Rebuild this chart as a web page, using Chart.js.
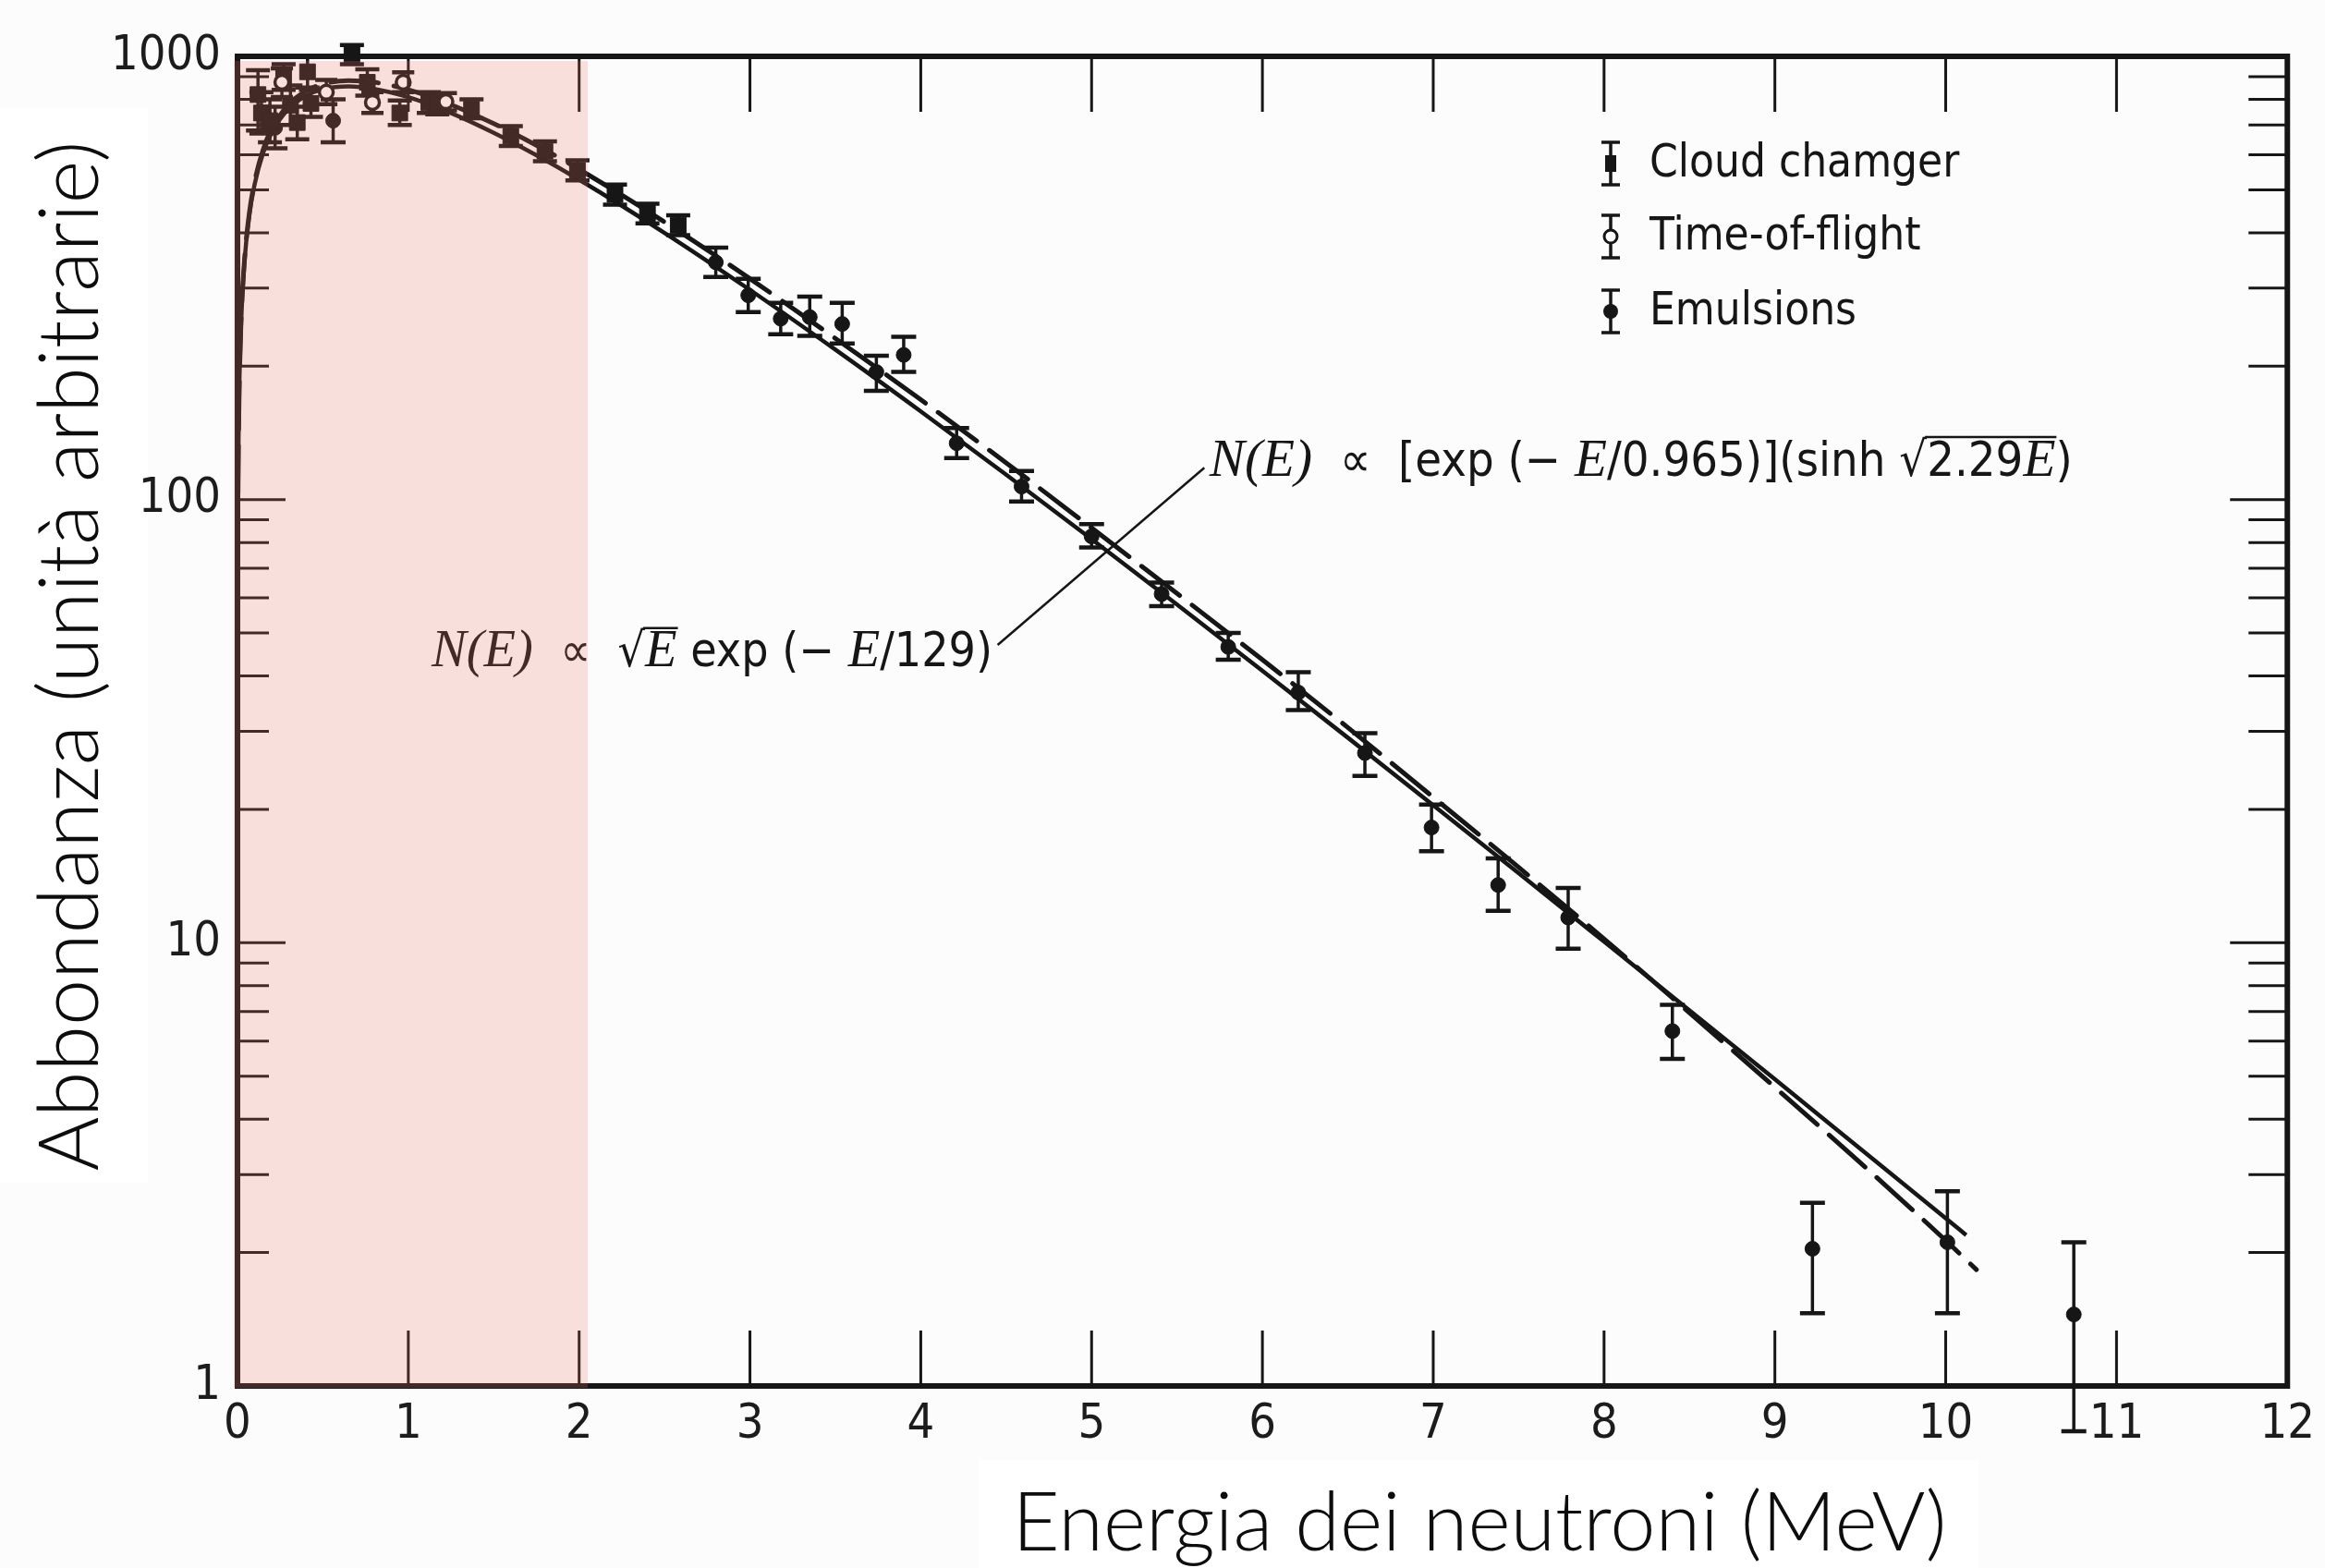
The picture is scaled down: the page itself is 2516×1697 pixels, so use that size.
<!DOCTYPE html>
<html>
<head>
<meta charset="utf-8">
<title>Spettro dei neutroni di fissione</title>
<style>
  html, body { margin: 0; padding: 0; background: #fcfcfc; }
  canvas { display: block; }
</style>
<script src="https://cdn.jsdelivr.net/npm/chart.js@4.4.1/dist/chart.umd.min.js"></script>
</head>
<body>
<canvas id="spectrum" width="2516" height="1697"></canvas>
<script>
// ---- Curves: sqrt(E) exp(-E/1.29) (solid) and exp(-E/0.965) sinh sqrt(2.29E) (dashed), arbitrary units
const solidEnergy = [0.0000003, 0.0001, 0.001, 0.003, 0.006, 0.01, 0.02, 0.04, 0.07, 0.1, 0.15, 0.2, 0.3, 0.4, 0.5, 0.65, 0.8, 1.0, 1.25, 1.5, 1.75, 2.0, 2.5, 3.0, 3.5, 4.0, 4.5, 5.0, 5.5, 6.0, 6.5, 7.0, 7.5, 8.0, 8.5, 9.0, 9.5, 10.0, 10.12];
const solidValues = [1.0, 17.6, 55.5, 95.9, 135.4, 174.2, 244.5, 340.5, 440.0, 513.9, 605.5, 672.5, 762.2, 814.5, 842.7, 855.3, 844.7, 809.0, 745.0, 672.3, 598.2, 526.9, 399.7, 297.2, 217.9, 158.1, 113.8, 81.4, 57.95, 41.08, 29.02, 20.44, 14.36, 10.06, 7.04, 4.92, 3.43, 2.39, 2.19];

const dashedEnergy = [0.0000003, 0.0001, 0.001, 0.003, 0.006, 0.01, 0.02, 0.04, 0.07, 0.1, 0.15, 0.2, 0.3, 0.4, 0.5, 0.65, 0.8, 1.0, 1.25, 1.5, 1.75, 2.0, 2.5, 3.0, 3.5, 4.0, 4.5, 5.0, 5.5, 6.0, 6.5, 7.0, 7.5, 8.0, 8.5, 9.0, 9.5, 10.0, 10.18];
const dashedValues = [1.0, 17.6, 55.4, 95.9, 135.6, 175, 246, 343, 445, 521, 616, 686, 779, 835, 866, 882, 874, 841, 778, 705, 630, 556, 423, 315, 231, 168, 121, 86.3, 61.4, 43.5, 30.6, 21.3, 14.8, 10.2, 6.95, 4.72, 3.19, 2.13, 1.83];

// ---- Measurements (energy in MeV, abundance with lower / upper error limits)
const cloudEnergy = [0.12, 0.14, 0.19, 0.27, 0.31, 0.35, 0.41, 0.43, 0.67, 0.76, 0.95, 1.12, 1.17, 1.37, 1.60, 1.80, 1.99, 2.21, 2.40, 2.58];
const cloudValues = [820, 745, 716, 900, 776, 709, 923, 783, 1010, 874, 745, 787, 777, 760, 661, 611, 553, 488, 442, 416];
const cloudLow    = [680, 670, 640, 840, 700, 650, 850, 730, 960, 815, 700, 745, 740, 725, 628, 580, 525, 463, 420, 395];
const cloudHigh   = [930, 830, 800, 960, 860, 770, 1000, 840, 1060, 935, 795, 830, 815, 800, 696, 643, 583, 514, 465, 438];

const tofEnergy = [0.26, 0.52, 0.79, 0.97, 1.22];
const tofValues = [874, 830, 787, 874, 790];
const tofLow    = [810, 780, 745, 830, 755];
const tofHigh   = [940, 885, 830, 920, 826];

const emulsionEnergy = [0.22, 0.56, 2.80, 2.99, 3.18, 3.35, 3.54, 3.74, 3.90, 4.21, 4.59, 5.00, 5.41, 5.80, 6.21, 6.60, 6.99, 7.38, 7.79, 8.40, 9.22, 10.01, 10.75];
const emulsionValues = [690, 716, 343, 289, 256, 258, 249, 194, 212, 134, 107, 82.6, 61.2, 46.5, 36.7, 26.8, 18.2, 13.5, 11.4, 6.32, 2.04, 2.11, 1.45];
const emulsionLow    = [620, 640, 318, 265, 236, 234, 225, 176, 194, 124, 99, 78, 57.5, 43.5, 33.5, 23.8, 16.1, 11.8, 9.7, 5.47, 1.46, 1.46, 0.79];
const emulsionHigh   = [770, 800, 370, 315, 278, 287, 278, 211, 233, 145, 116, 88, 65, 50, 40.8, 29.7, 20.5, 15.5, 13.3, 7.24, 2.59, 2.75, 2.11];

// ---- Axis ticks
const xTickValues = [0, 1, 2, 3, 4, 5, 6, 7, 8, 9, 10, 11, 12];
const yTickValues = [1, 10, 100, 1000];
const yMinorValues = [2, 3, 4, 5, 6, 7, 8, 9, 20, 30, 40, 50, 60, 70, 80, 90, 200, 300, 400, 500, 600, 700, 800, 900];

// ---- Text
const xTitle = 'Energia dei neutroni (MeV)';
const yTitle = 'Abbondanza (unità arbitrarie)';
const seriesNames = ['Cloud chamger', 'Time-of-flight', 'Emulsions'];

// Formula labels: anchor in data units (energy, abundance)
const maxwellLabelAnchor = { x: 4.42, y: 46 };
const wattLabelAnchor = { x: 5.69, y: 124 };
const leaderFrom = { x: 5.66, y: 118 };
const leaderTo = { x: 4.45, y: 47 };
const shadedRange = [0, 2.05];

const SANS = "'DejaVu Sans Condensed', 'DejaVu Sans', sans-serif";
const SERIF = "'Liberation Serif', 'DejaVu Serif', serif";
const TITLE_FONT = "Lato, 'Open Sans', sans-serif";
const INK = '#161616';

const toPoints = (xs, ys) => xs.map((x, i) => ({ x: x, y: ys[i] }));

// vertical error bars under each marker
const errorBarPlugin = {
  id: 'errorBars',
  beforeDatasetDraw(chart, args) {
    const ds = chart.data.datasets[args.index];
    if (!ds.errLow) return;
    const ctx = chart.ctx, ys = chart.scales.y;
    ctx.save();
    ctx.strokeStyle = INK;
    ctx.lineCap = 'butt';
    args.meta.data.forEach((pt, i) => {
      const x = pt.x;
      const yl = ys.getPixelForValue(ds.errLow[i]);
      const yh = ys.getPixelForValue(ds.errHigh[i]);
      const c = ds.capWidth / 2;
      ctx.lineWidth = 3.5;
      ctx.beginPath();
      ctx.moveTo(x, yl); ctx.lineTo(x, yh);
      ctx.stroke();
      ctx.lineWidth = 4.5;
      ctx.beginPath();
      ctx.moveTo(x - c, yl); ctx.lineTo(x + c, yl);
      ctx.moveTo(x - c, yh); ctx.lineTo(x + c, yh);
      ctx.stroke();
    });
    ctx.restore();
  }
};

function drawRuns(ctx, runs, x, yMid, targetWidth, align) {
  const base = 50;
  const fontFor = (r, s) => r.it ? `italic 400 ${s * 1.1}px ${SERIF}` : `400 ${s}px ${SANS}`;
  let total = 0;
  runs.forEach(r => { ctx.font = fontFor(r, base); total += ctx.measureText(r.t).width; });
  const size = base * targetWidth / total;
  let cx = align === 'right' ? x - targetWidth : x;
  const baseline = yMid + size * 0.36;
  let overStart = null, overEnd = null;
  ctx.textBaseline = 'alphabetic';
  ctx.textAlign = 'left';
  runs.forEach(r => {
    ctx.font = fontFor(r, size);
    ctx.fillText(r.t, cx, baseline);
    const w = ctx.measureText(r.t).width;
    if (r.over) { if (overStart === null) overStart = cx; overEnd = cx + w; }
    cx += w;
  });
  if (overStart !== null) {
    ctx.lineWidth = 2.5;
    ctx.beginPath();
    ctx.moveTo(overStart - 2, baseline - size * 0.80);
    ctx.lineTo(overEnd + 1, baseline - size * 0.80);
    ctx.stroke();
  }
}

function fitFont(ctx, text, weight, family, targetW) {
  ctx.font = `${weight} 100px ${family}`;
  return 100 * targetW / ctx.measureText(text).width;
}

const decorPlugin = {
  id: 'decor',
  beforeDraw(chart) {
    const ctx = chart.ctx;
    ctx.save();
    ctx.fillStyle = '#ffffff';
    ctx.fillRect(0, 118, 160, 1162);
    ctx.fillRect(1059, 1580, 1083, 117);
    ctx.restore();
  },
  afterDraw(chart) {
    const ctx = chart.ctx, a = chart.chartArea, xs = chart.scales.x, ys = chart.scales.y;
    ctx.save();
    ctx.strokeStyle = INK;
    ctx.fillStyle = INK;

    // inward tick marks on all four sides
    ctx.lineWidth = 3;
    ctx.beginPath();
    yTickValues.concat(yMinorValues).forEach(v => {
      if (v === 1 || v === 1000) return;
      const p = ys.getPixelForValue(v);
      const major = yTickValues.includes(v);
      ctx.moveTo(a.left, p); ctx.lineTo(a.left + (major ? 52 : 34), p);
      ctx.moveTo(a.right, p); ctx.lineTo(a.right - (major ? 62 : 42), p);
    });
    xTickValues.forEach(v => {
      if (v === xTickValues[0] || v === xTickValues[xTickValues.length - 1]) return;
      const p = xs.getPixelForValue(v);
      ctx.moveTo(p, a.bottom); ctx.lineTo(p, a.bottom - 60);
      ctx.moveTo(p, a.top); ctx.lineTo(p, a.top + 60);
    });
    ctx.stroke();

    // frame
    ctx.lineWidth = 6;
    ctx.strokeRect(a.left, a.top, a.right - a.left, a.bottom - a.top);

    // formula labels and leader line
    drawRuns(ctx, [
      { t: 'N(E)', it: true }, { t: '  \u221D  ' }, { t: '\u221A' }, { t: 'E', it: true, over: true },
      { t: ' exp (\u2212 ' }, { t: 'E', it: true }, { t: '/129)' }
    ], xs.getPixelForValue(maxwellLabelAnchor.x), ys.getPixelForValue(maxwellLabelAnchor.y), 607, 'right');
    drawRuns(ctx, [
      { t: 'N(E)', it: true }, { t: '  \u221D  [exp (\u2212 ' }, { t: 'E', it: true }, { t: '/0.965)](sinh ' },
      { t: '\u221A' }, { t: '2.29', over: true }, { t: 'E', it: true, over: true }, { t: ')' }
    ], xs.getPixelForValue(wattLabelAnchor.x), ys.getPixelForValue(wattLabelAnchor.y), 934, 'left');
    ctx.lineWidth = 2.5;
    ctx.beginPath();
    ctx.moveTo(xs.getPixelForValue(leaderFrom.x), ys.getPixelForValue(leaderFrom.y));
    ctx.lineTo(xs.getPixelForValue(leaderTo.x), ys.getPixelForValue(leaderTo.y));
    ctx.stroke();

    // legend with error-bar glyphs
    const sx = a.left + 1486, tx = a.left + 1528;
    const rows = [a.top + 116, a.top + 195, a.top + 276];
    chart.data.datasets.filter(d => d.legendMarker).forEach((d, i) => {
      const y = rows[i];
      ctx.lineWidth = 3.5;
      ctx.beginPath();
      ctx.moveTo(sx, y - 23); ctx.lineTo(sx, y + 23);
      ctx.moveTo(sx - 10, y - 23); ctx.lineTo(sx + 10, y - 23);
      ctx.moveTo(sx - 10, y + 23); ctx.lineTo(sx + 10, y + 23);
      ctx.stroke();
      if (d.legendMarker === 'rect') {
        ctx.fillRect(sx - 6, y - 9, 12, 18);
      } else if (d.legendMarker === 'ring') {
        ctx.fillStyle = '#ffffff';
        ctx.beginPath(); ctx.arc(sx, y, 7, 0, Math.PI * 2); ctx.fill();
        ctx.lineWidth = 3; ctx.stroke();
        ctx.fillStyle = INK;
      } else {
        ctx.beginPath(); ctx.arc(sx, y, 8, 0, Math.PI * 2); ctx.fill();
      }
      ctx.font = `400 49px ${SANS}`;
      ctx.textBaseline = 'middle';
      ctx.textAlign = 'left';
      ctx.fillText(d.label, tx, y + 1);
    });

    // axis titles
    ctx.fillStyle = '#0d0d0d';
    ctx.textAlign = 'center';
    ctx.textBaseline = 'alphabetic';
    const xs1 = fitFont(ctx, xTitle, 300, TITLE_FONT, 1011);
    ctx.font = `300 ${xs1}px ${TITLE_FONT}`;
    ctx.fillText(xTitle, 1601, 1678);
    const ys1 = fitFont(ctx, yTitle, 300, TITLE_FONT, 1115);
    ctx.save();
    ctx.translate(106, 710);
    ctx.rotate(-Math.PI / 2);
    ctx.font = `300 ${ys1}px ${TITLE_FONT}`;
    ctx.fillText(yTitle, 0, 0);
    ctx.restore();

    // shaded band 0-2 MeV laid over everything inside it
    ctx.fillStyle = 'rgba(236, 120, 104, 0.21)';
    const x0 = xs.getPixelForValue(shadedRange[0]) - 4;
    const x1 = xs.getPixelForValue(shadedRange[1]);
    ctx.fillRect(x0, a.top + 5, x1 - x0, a.bottom - a.top - 5 + 2);
    ctx.restore();
  }
};

new Chart(document.getElementById('spectrum'), {
  type: 'scatter',
  data: {
    datasets: [
      {
        type: 'line', label: 'N(E) sqrt', data: toPoints(solidEnergy, solidValues),
        borderColor: INK, borderWidth: 4.5, pointRadius: 0, fill: false,
        cubicInterpolationMode: 'monotone', order: 3
      },
      {
        type: 'line', label: 'N(E) sinh', data: toPoints(dashedEnergy, dashedValues),
        borderColor: INK, borderWidth: 5, borderDash: [52, 17], borderCapStyle: 'round', pointRadius: 0, fill: false,
        cubicInterpolationMode: 'monotone', order: 3
      },
      {
        label: seriesNames[0], data: toPoints(cloudEnergy, cloudValues),
        errLow: cloudLow, errHigh: cloudHigh, capWidth: 26, legendMarker: 'rect',
        pointStyle: 'rect', pointRadius: 12, backgroundColor: INK, borderColor: INK, borderWidth: 1,
        clip: false, order: 1
      },
      {
        label: seriesNames[1], data: toPoints(tofEnergy, tofValues),
        errLow: tofLow, errHigh: tofHigh, capWidth: 24, legendMarker: 'ring',
        pointStyle: 'circle', pointRadius: 7.5, backgroundColor: '#ffffff', borderColor: INK, borderWidth: 3.5,
        clip: false, order: 0
      },
      {
        label: seriesNames[2], data: toPoints(emulsionEnergy, emulsionValues),
        errLow: emulsionLow, errHigh: emulsionHigh, capWidth: 27, legendMarker: 'dot',
        pointStyle: 'circle', pointRadius: 8, backgroundColor: INK, borderColor: INK, borderWidth: 1,
        clip: false, order: 1
      }
    ]
  },
  options: {
    responsive: false,
    devicePixelRatio: 1,
    animation: false,
    layout: { padding: { left: 0, top: 61, right: 35, bottom: 0 } },
    plugins: { legend: { display: false }, tooltip: { enabled: false }, title: { display: false } },
    scales: {
      x: {
        type: 'linear', min: 0, max: 12,
        afterBuildTicks: (s) => { s.ticks = xTickValues.map(v => ({ value: v })); },
        afterFit: (s) => { s.height = 197; },
        grid: { display: false, drawTicks: false },
        border: { display: false },
        ticks: {
          autoSkip: false, maxRotation: 0, padding: 11, color: '#1c1c1c',
          font: { family: SANS, size: 52 },
          callback: (v) => String(v)
        }
      },
      y: {
        type: 'logarithmic', min: 1, max: 1000,
        afterBuildTicks: (s) => { s.ticks = yTickValues.map(v => ({ value: v })); },
        afterFit: (s) => { s.width = 257; },
        grid: { display: false, drawTicks: false },
        border: { display: false },
        ticks: {
          autoSkip: false, padding: 18, color: '#1c1c1c',
          font: { family: SANS, size: 52 },
          callback: (v) => String(v)
        }
      }
    }
  },
  plugins: [errorBarPlugin, decorPlugin]
});
</script>
</body>
</html>
